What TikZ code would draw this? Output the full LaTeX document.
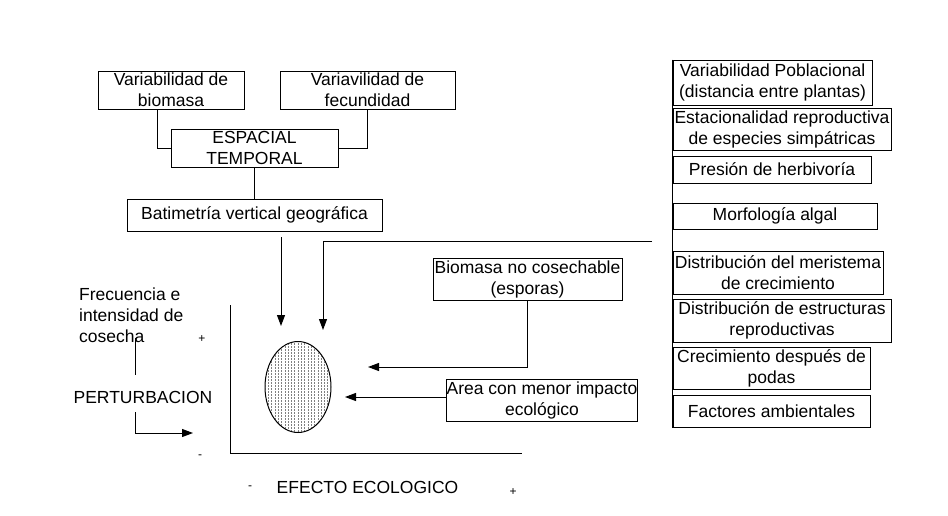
\documentclass[tikz,border=0pt]{standalone}
\usepackage{fontspec}
\setmainfont{Liberation Sans}
\usetikzlibrary{arrows.meta,shapes.geometric}
\begin{document}
\begin{tikzpicture}[x=1pt,y=-1pt,
  every node/.style={font=\fontsize{17.5}{21}\selectfont, inner sep=0pt, align=center},
  box/.style={draw, line width=1pt, rectangle},
  conn/.style={line width=1pt},
  arr/.style={line width=1pt, -{Triangle[length=11pt,width=8pt]}},
  sign/.style={font=\fontsize{12}{14}\selectfont}]
\fill[white] (0,0) rectangle (948,515);
\useasboundingbox (0,0) rectangle (948,515);

% top-left boxes
\node[box, minimum width=146pt, minimum height=38pt] (bio) at (171,90) {Variabilidad de\\biomasa};
\node[box, minimum width=175pt, minimum height=38pt] (fec) at (367.5,90) {Variavilidad de\\fecundidad};
\node[box, minimum width=167pt, minimum height=38pt] (esp) at (254.5,148) {ESPACIAL\\TEMPORAL};
\node[box, minimum width=255pt, minimum height=32pt] (bat) at (254.5,215) {Batimetría vertical geográfica};

\draw[conn] ([xshift=-14pt]bio.south) |- (esp.west);
\draw[conn] (fec.south) |- (esp.east);
\draw[conn] (esp.south) -- (bat.north);

% right column
\node[box, minimum width=199pt, minimum height=45pt] (r1) at (772.5,82.5) {Variabilidad Poblacional\\(distancia entre plantas)};
\node[box, minimum width=218pt, minimum height=42pt] (r2) at (782,129) {Estacionalidad reproductiva\\de especies simpátricas};
\node[box, minimum width=198pt, minimum height=27pt] (r3) at (772,169.5) {Presión de herbivoría};
\node[box, minimum width=204pt, minimum height=26pt] (r4) at (775,216) {Morfología algal};
\node[box, minimum width=210pt, minimum height=43pt] (r5) at (778,272.5) {Distribución del meristema\\de crecimiento};
\node[box, minimum width=218pt, minimum height=43pt] (r6) at (782,320.5) {Distribución de estructuras\\reproductivas};
\node[box, minimum width=197pt, minimum height=42pt] (r7) at (771.5,368) {Crecimiento después de\\podas};
\node[box, minimum width=197pt, minimum height=32pt] (r8) at (771.5,411) {Factores ambientales};
\draw[conn] (r1.north west) -- (r8.south west);

% middle boxes
\node[box, minimum width=189pt, minimum height=42pt] (bnc) at (527.5,279) {Biomasa no cosechable\\(esporas)};
\node[box, minimum width=190pt, minimum height=42pt] (area) at (542,400) {Area con menor impacto\\ecológico};

% ellipse with vertical hatching
\begin{scope}
  \clip (298,387) ellipse [x radius=32.5pt, y radius=45pt];
  \foreach \i in {0,...,20} {
    \draw[gray, line width=0.6pt, dash pattern=on 2pt off 1pt] (265+3.3*\i,340) -- (265+3.3*\i,434);
  }
\end{scope}
\node[draw, line width=1pt, ellipse, minimum width=66pt, minimum height=91pt] (ell) at (298,387) {};

% arrows to ellipse
\coordinate (a1s) at (281,237);
\coordinate (a1e) at (281,326);
\draw[arr] (a1s) -- (a1e);
\coordinate (a2s) at (652,241);
\coordinate (a2e) at (323,330);
\draw[arr] (a2s) -| (a2e);
\coordinate (a3e) at (368,367);
\draw[arr] (bnc.south) |- (a3e);
\coordinate (a4e) at (345,397);
\draw[arr] (area.west |- a4e) -- (a4e);

% axes
\coordinate (ax1) at (230,305);
\coordinate (ax0) at (230,453);
\coordinate (ax2) at (522,453);
\draw[conn] (ax1) -- (ax0) -- (ax2);

% left labels
\node[align=left, anchor=west] (frec) at (79,315) {Frecuencia e\\intensidad de\\cosecha};
\node (pert) at (143,397) {PERTURBACION};
\coordinate (p1) at (135,338);
\coordinate (p2) at (135,375);
\draw[conn] (p1) -- (p2);
\coordinate (p3) at (135,412);
\coordinate (p4) at (193,433);
\draw[arr] (p3) |- (p4);
\node[sign] (plus1) at (202,339) {+};
\node[sign] (minus1) at (200,457) {-};

% bottom label
\node (efec) at (367.5,487) {EFECTO ECOLOGICO};
\node[sign] (minus2) at (250,488) {-};
\node[sign] (plus2) at (513,492) {+};
\end{tikzpicture}
\end{document}
